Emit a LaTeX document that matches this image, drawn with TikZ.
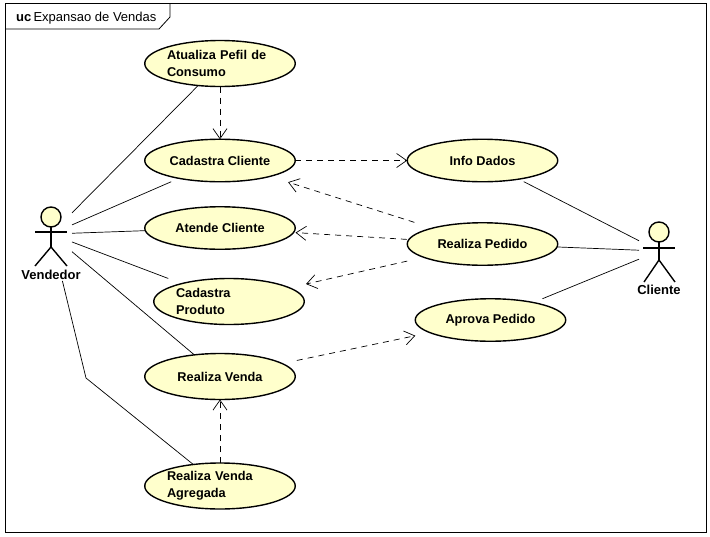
\documentclass[tikz,border=0pt]{standalone}
\usepackage{fontspec}
\setmainfont{Liberation Sans}
\usetikzlibrary{arrows.meta,shapes.geometric}
\definecolor{ucyellow}{HTML}{FFFFCC}
\tikzset{
	usecase/.style={ellipse, draw, line width=1.4pt, fill=ucyellow, inner sep=0pt, outer sep=0pt,
		minimum width=150.5pt, minimum height=42.5pt, font=\fontsize{12.75}{17}\selectfont\bfseries},
	tallcase/.style={usecase, minimum height=46pt},
	twolines/.style={align=left, text width=106pt},
	actorbox/.style={rectangle, inner sep=0pt, outer sep=0pt},
	actorname/.style={inner sep=0pt, font=\fontsize{13}{15}\selectfont\bfseries},
	stick/.style={line width=1.4pt},
	assoc/.style={line width=0.7pt},
	dep/.style={line width=0.7pt, dash pattern=on 6pt off 5pt, ->, >={Straight Barb[length=10pt,width=14pt]}}
}
\begin{document}
\begin{tikzpicture}[x=1pt,y=-1pt]
	\useasboundingbox (0,0) rectangle (710,536);
	% Frame
	\draw[line width=0.8pt] (5.5,3.5) rectangle (706.5,532.5);
	\draw[line width=0.8pt] (5.5,29) -- (159,29) -- (170,17) -- (170,3.5);
	\node[anchor=west, inner sep=0pt, font=\fontsize{13}{15}\selectfont] (title) at (16,18) {\textbf{uc}\,Expansao de Vendas};
	% Use cases
	\node[tallcase, twolines] (atualiza) at (220,63.5) {Atualiza Pefil de\\Consumo};
	\node[usecase] (cadastra) at (220,160.5) {Cadastra Cliente};
	\node[usecase] (atende) at (220,228) {Atende Cliente};
	\node[tallcase, twolines] (produto) at (229,301.5) {Cadastra\\Produto};
	\node[tallcase] (venda) at (220,376.5) {Realiza Venda};
	\node[tallcase, twolines] (agregada) at (220,486) {Realiza Venda\\Agregada};
	\node[usecase] (dados) at (482.5,160.5) {Info Dados};
	\node[usecase] (pedido) at (482.5,244) {Realiza Pedido};
	\node[usecase] (aprova) at (490.5,320) {Aprova Pedido};
	% Vendedor
	\node[actorbox, minimum width=42pt, minimum height=94pt] (vendedor) at (51,234) {};
	\draw[stick, fill=ucyellow] (51,217) circle (10);
	\draw[stick] (51,227) -- (51,247);
	\draw[stick] (35,232) -- (67,232);
	\draw[stick] (35,266) -- (51,247) -- (67,266);
	\node[actorname] (vendedorname) at (51,275) {Vendedor};
	% Cliente
	\node[actorbox, minimum width=40pt, minimum height=60pt] (cliente) at (659,251) {};
	\draw[stick, fill=ucyellow] (659,232) circle (10);
	\draw[stick] (659,242) -- (659,260);
	\draw[stick] (643,248) -- (675,248);
	\draw[stick] (644,282) -- (659,260) -- (675,282);
	\node[actorname] (clientename) at (659,290) {Cliente};
	% Associations
	\coordinate (vendabend) at (86,378);
	\draw[assoc] (vendedor) -- (atualiza);
	\draw[assoc, shorten >=8.5pt] (vendedor) -- (cadastra);
	\draw[assoc] (vendedor) -- (atende);
	\draw[assoc, shorten >=14.5pt] (vendedor) -- (produto);
	\draw[assoc] (vendedor) -- (venda);
	\draw[assoc] (vendedor) -- (vendabend) -- (agregada);
	\draw[assoc, shorten <=5.5pt] (dados) -- (cliente);
	\draw[assoc] (pedido) -- (cliente);
	\draw[assoc, shorten <=10pt] (aprova) -- (cliente);
	% Dependencies
	\draw[dep] (atualiza) -- (cadastra);
	\draw[dep] (cadastra) -- (dados);
	\draw[dep, shorten <=19pt, shorten >=19pt] (pedido) -- (cadastra);
	\draw[dep, shorten <=2pt, shorten >=2pt] (pedido) -- (atende);
	\draw[dep, shorten <=17pt, shorten >=17pt] (pedido) -- (produto);
	\draw[dep, shorten <=15pt, shorten >=15pt] (venda) -- (aprova);
	\draw[dep] (agregada) -- (venda);
\end{tikzpicture}
\end{document}
